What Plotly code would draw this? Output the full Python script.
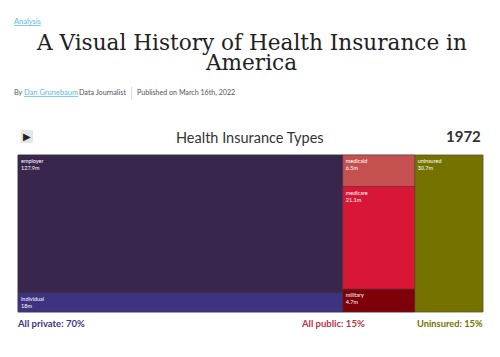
import plotly.graph_objects as go

W, H = 500, 357

# Data
groups = ["private", "public", "uninsured"]
private_names = ["employer", "individual"]
private_values = [127.9, 18]
public_names = ["medicaid", "medicare", "military"]
public_values = [6.5, 21.1, 4.7]
uninsured_value = 30.7
year = "1972"

private_colors = ["#38264c", "#3e3380"]
public_colors = ["#c55050", "#d81636", "#7e0008"]
uninsured_color = "#757200"

private_total = sum(private_values)
public_total = sum(public_values)
total = private_total + public_total + uninsured_value

ids = ["root", "private", "public", "uninsured_g"] + private_names + public_names
labels = ["", "", "", "uninsured"] + private_names + public_names
parents = ["", "root", "root", "root"] + ["private"] * 2 + ["public"] * 3
values = [total, private_total, public_total, uninsured_value] + private_values + public_values
colors = ["#ffffff", "#38264c", "#d81636", uninsured_color] + private_colors + public_colors
texts = ["", "", "", f"uninsured<br>{uninsured_value}m"] + \
        [f"{n}<br>{v:g}m" for n, v in zip(private_names, private_values)] + \
        [f"{n}<br>{v:g}m" for n, v in zip(public_names, public_values)]

fig = go.Figure(go.Treemap(
    ids=ids, labels=labels, parents=parents, values=values,
    branchvalues="total", sort=False,
    text=texts, texttemplate="%{text}", textposition="top left",
    textfont=dict(family="Lato, sans-serif", size=5.5, color="#ffffff"),
    tiling=dict(packing="slice-dice", pad=0),
    marker=dict(colors=colors, pad=dict(t=0, l=0, r=0, b=0),
                line=dict(color="#3a3a3a", width=0.4)),
    pathbar=dict(visible=False),
    root=dict(color="rgba(0,0,0,0)"),
    hoverinfo="skip",
    domain=dict(x=[18 / W, 483 / W], y=[1 - 312 / H, 1 - 155 / H]),
))


def txt(x, y, s, size, color, family="Lato, sans-serif", anchor="left"):
    return dict(x=x / W, y=1 - y / H, xref="paper", yref="paper", text=s, showarrow=False,
                xanchor=anchor, yanchor="middle", borderpad=0, borderwidth=0,
                font=dict(size=size, color=color, family=family))


serif = "DejaVu Serif, serif"
annos = [
    txt(14, 21, "<u>Analysis</u>", 7.5, "#5bb8e8"),
    txt(251, 42, "A Visual History of Health Insurance in", 21.6, "#222222", serif, "center"),
    txt(251, 62, "America", 21.6, "#222222", serif, "center"),
    txt(14, 93, "By", 7.2, "#555555"),
    txt(24, 93, "<u>Dan Grunebaum</u>", 7.5, "#5bb8e8"),
    txt(79, 93, "Data Journalist", 7.2, "#555555"),
    txt(137, 93, "Published on March 16th, 2022", 7.1, "#555555"),
    txt(27, 136, "▶", 10, "#222222", "DejaVu Sans", "center"),
    txt(250, 137, "Health Insurance Types", 14.5, "#333333", "Lato, sans-serif", "center"),
    txt(481, 136, f"<b>{year}</b>", 15, "#333333", "Lato, sans-serif", "right"),
    txt(17, 323, "<b>All private: 70%</b>", 9.5, "#3e3380"),
    txt(365, 323, "<b>All public: 15%</b>", 9.5, "#b8333f", "Lato, sans-serif", "right"),
    txt(483, 323, "<b>Uninsured: 15%</b>", 9.3, "#757200", "Lato, sans-serif", "right"),
]

shapes = [
    dict(type="rect", xref="paper", yref="paper", x0=20.5 / W, x1=33 / W,
         y0=1 - 143 / H, y1=1 - 130 / H, fillcolor="#e6e6e6", line=dict(width=0), layer="below"),
    dict(type="line", xref="paper", yref="paper", x0=131.5 / W, x1=131.5 / W,
         y0=1 - 100 / H, y1=1 - 87 / H, line=dict(color="#dddddd", width=1)),
]

fig.update_layout(width=W, height=H, autosize=False, margin=dict(l=0, r=0, t=0, b=0),
                  paper_bgcolor="#ffffff", plot_bgcolor="#ffffff",
                  annotations=annos, shapes=shapes, showlegend=False)
fig.write_html("out.html", config=dict(displayModeBar=False),
               post_script="document.body.style.margin='0';document.documentElement.style.overflow='hidden';")
